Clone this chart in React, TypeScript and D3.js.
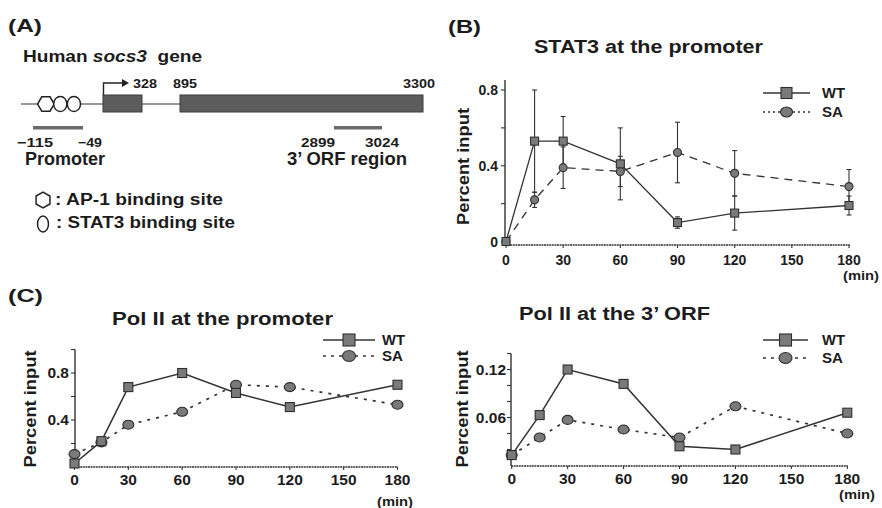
import React from "react";
import * as d3 from "d3";

// ---------------- data ----------------
const timePoints = [0, 15, 30, 60, 90, 120, 180];
const timeTicks = [0, 30, 60, 90, 120, 150, 180];

// (B) STAT3 at the promoter (percent input, mean ± error)
const stat3WT = [0.0, 0.53, 0.53, 0.41, 0.1, 0.15, 0.19];
const stat3WTErr = [0.01, 0.27, 0.13, 0.19, 0.03, 0.09, 0.05];
const stat3SA = [0.0, 0.22, 0.39, 0.37, 0.47, 0.36, 0.29];
const stat3SAErr = [0.01, 0.04, 0.11, 0.08, 0.16, 0.12, 0.09];
const stat3YTicks = [0, 0.2, 0.4, 0.6, 0.8];
const stat3YLabels = [0, 0.4, 0.8];

// (C) Pol II at the promoter
const polPromWT = [0.03, 0.22, 0.68, 0.8, 0.63, 0.51, 0.7];
const polPromSA = [0.11, 0.21, 0.36, 0.47, 0.7, 0.68, 0.53];
const polPromYTicks = [0.2, 0.4, 0.6, 0.8, 1.0];
const polPromYLabels = [0.4, 0.8];

// (C) Pol II at the 3' ORF
const polOrfWT = [0.013, 0.063, 0.12, 0.102, 0.024, 0.02, 0.066];
const polOrfSA = [0.013, 0.035, 0.057, 0.045, 0.035, 0.074, 0.04];
const polOrfYTicks = [0.02, 0.04, 0.06, 0.08, 0.1, 0.12, 0.14];
const polOrfYLabels = [0.06, 0.12];

// (A) gene schematic (bp positions)
const geneExons = [
  [0, 328],
  [895, 3300],
];
const promoterRegion = [-115, -49];
const orfRegion = [2899, 3024];
const ap1Sites = [-98];
const stat3Sites = [-79, -61];

// ---------------- helpers ----------------
const F = "'Liberation Sans', Arial, Helvetica, sans-serif";
const INK = "#1c1c1c";
const MARK_FILL = "#7a7a7a";
const MARK_STROKE = "#2e2e2e";

function T(props: any) {
  const { x, y, fs = 14, w, anchor = "start", rot, italic, children } = props;
  const extra: any = {};
  if (w) {
    extra.textLength = w;
    extra.lengthAdjust = "spacingAndGlyphs";
  }
  return (
    <text
      x={x}
      y={y}
      fontSize={fs}
      fontWeight="bold"
      fontStyle={italic ? "italic" : undefined}
      fontFamily={F}
      textAnchor={anchor}
      fill={INK}
      transform={rot ? `rotate(-90 ${x} ${y})` : undefined}
      style={{ whiteSpace: "pre" }}
      {...extra}
    >
      {children}
    </text>
  );
}

function Square({ x, y, s }: any) {
  return (
    <rect x={x - s / 2} y={y - s / 2} width={s} height={s} fill={MARK_FILL} stroke={MARK_STROKE} strokeWidth={1.1} />
  );
}
function Dot({ x, y, rx, ry }: any) {
  return <ellipse cx={x} cy={y} rx={rx} ry={ry} fill={MARK_FILL} stroke={MARK_STROKE} strokeWidth={1.1} />;
}

function hexPath(cx: number, cy: number, r: number, flat: boolean) {
  const pts = d3.range(6).map((i) => {
    const a = (Math.PI / 3) * i + (flat ? 0 : Math.PI / 6);
    return [cx + r * Math.cos(a), cy + r * Math.sin(a)];
  });
  return "M" + pts.map((p) => p.join(",")).join("L") + "Z";
}

function Legend({ x1, x2, yWT, ySA, tx, sq, rx, ry, saDash }: any) {
  const mid = (x1 + x2) / 2;
  return (
    <g>
      <line x1={x1} x2={x2} y1={yWT} y2={yWT} stroke="#333" strokeWidth={1.3} />
      <Square x={mid} y={yWT} s={sq} />
      <T x={tx} y={yWT + 5} fs={14} w={23}>WT</T>
      <line x1={x1} x2={x2} y1={ySA} y2={ySA} stroke="#333" strokeWidth={1.6} strokeDasharray={saDash} />
      <Dot x={mid} y={ySA} rx={rx} ry={ry} />
      <T x={tx} y={ySA + 5} fs={14} w={21}>SA</T>
    </g>
  );
}

function Axes({ x, y, axisX, axisY, yTop, xEnd, yTicks, yLabels, fmt, labelX, xLabelY, fs }: any) {
  return (
    <g>
      <line x1={axisX} x2={axisX} y1={yTop} y2={axisY} stroke="#333" strokeWidth={1.4} />
      <line x1={axisX} x2={xEnd} y1={axisY} y2={axisY} stroke="#333" strokeWidth={1.4} strokeDasharray="2,0.6" />
      {yTicks.map((t: number) => (
        <line key={"yt" + t} x1={axisX - 4} x2={axisX} y1={y(t)} y2={y(t)} stroke="#333" strokeWidth={1.1} />
      ))}
      {yLabels.map((t: number) => (
        <T key={"yl" + t} x={labelX} y={y(t) + 5} fs={fs} anchor="end">
          {fmt(t)}
        </T>
      ))}
      {timeTicks.map((t) => (
        <line key={"xt" + t} x1={x(t)} x2={x(t)} y1={axisY} y2={axisY + 3} stroke="#333" strokeWidth={1.1} />
      ))}
      {timeTicks.map((t) => (
        <T key={"xl" + t} x={x(t)} y={xLabelY} fs={fs} anchor="middle">
          {String(t)}
        </T>
      ))}
    </g>
  );
}

// ---------------- panels ----------------
function PanelA() {
  const gx = d3
    .scaleLinear()
    .domain([-420, -115, -49, 0, 328, 895, 2899, 3024, 3300])
    .range([21, 33, 83, 103, 142, 180, 334, 382, 423]);
  const gy = 104;
  return (
    <g>
      <T x={8} y={32} fs={18} w={34}>(A)</T>
      <text x={23} y={62} fontSize={16} fontWeight="bold" fontFamily={F} fill={INK} textLength={179} lengthAdjust="spacingAndGlyphs" style={{ whiteSpace: "pre" }}>
        Human <tspan fontStyle="italic">socs3</tspan>{"  gene"}
      </text>
      <line x1={gx(-420)} x2={gx(3300)} y1={gy} y2={gy} stroke="#333" strokeWidth={1.2} />
      {geneExons.map(([a, b]) => (
        <rect key={a} x={gx(a)} y={gy - 9} width={gx(b) - gx(a)} height={17} fill="#5c5c5c" stroke="#3a3a3a" strokeWidth={1} />
      ))}
      {ap1Sites.map((s) => (
        <path key={s} d={hexPath(gx(s), gy, 8.3, true)} fill="#fff" stroke="#222" strokeWidth={1.5} />
      ))}
      {stat3Sites.map((s) => (
        <ellipse key={s} cx={gx(s)} cy={gy} rx={6.6} ry={7.6} fill="#fff" stroke="#222" strokeWidth={1.5} />
      ))}
      <path d={`M${gx(0) + 0.5},${gy - 9} V${gy - 21} H${gx(0) + 22}`} fill="none" stroke="#222" strokeWidth={1.4} />
      <path d={`M${gx(0) + 19},${gy - 25} L${gx(0) + 26},${gy - 21} L${gx(0) + 19},${gy - 17} Z`} fill="#222" />
      <T x={gx(328) - 9} y={88} fs={13} w={24}>328</T>
      <T x={gx(895) - 7} y={88} fs={13} w={24}>895</T>
      <T x={gx(3300) + 12} y={88} fs={13} w={32} anchor="end">3300</T>
      <rect x={gx(promoterRegion[0])} y={126} width={gx(promoterRegion[1]) - gx(promoterRegion[0])} height={3.5} fill="#6a6a6a" />
      <rect x={gx(orfRegion[0])} y={126} width={gx(orfRegion[1]) - gx(orfRegion[0])} height={3.5} fill="#6a6a6a" />
      <T x={gx(promoterRegion[0]) + 2} y={147} fs={13} w={36} anchor="middle">−115</T>
      <T x={gx(promoterRegion[1]) + 7} y={147} fs={13} w={24} anchor="middle">−49</T>
      <T x={gx(orfRegion[0]) + 1} y={147} fs={13} w={34} anchor="end">2899</T>
      <T x={gx(orfRegion[1])} y={147} fs={13} w={34} anchor="middle">3024</T>
      <T x={25} y={165} fs={18} w={80}>Promoter</T>
      <T x={287} y={165} fs={18} w={120}>3’ ORF region</T>
      <path d={hexPath(43, 200, 8, false)} fill="#fff" stroke="#222" strokeWidth={1.5} />
      <T x={55} y={205} fs={16} w={168}>: AP-1 binding site</T>
      <ellipse cx={43} cy={224} rx={5.5} ry={8} fill="#fff" stroke="#222" strokeWidth={1.5} />
      <T x={56} y={228} fs={16} w={179}>: STAT3 binding site</T>
    </g>
  );
}

function PanelB() {
  const x = d3.scaleLinear().domain([0, 180]).range([506, 849]);
  const y = d3.scaleLinear().domain([0, 0.8]).range([241.5, 90]);
  const line = d3
    .line<number>()
    .x((_, i) => x(timePoints[i]))
    .y((d) => y(d));
  const err = (vals: number[], errs: number[], key: string) =>
    vals.map((v, i) => {
      const cx = x(timePoints[i]);
      const y1 = y(v + errs[i]);
      const y2 = y(v - errs[i]);
      return (
        <g key={key + i} stroke="#333" strokeWidth={1.1}>
          <line x1={cx} x2={cx} y1={y1} y2={y2} />
          <line x1={cx - 2.5} x2={cx + 2.5} y1={y1} y2={y1} />
          <line x1={cx - 2.5} x2={cx + 2.5} y1={y2} y2={y2} />
        </g>
      );
    });
  return (
    <g>
      <T x={448} y={33} fs={18} w={33}>(B)</T>
      <T x={534} y={53} fs={18} w={229}>STAT3 at the promoter</T>
      <T x={469} y={166.5} fs={16} w={117} anchor="middle" rot>Percent input</T>
      <Axes
        x={x}
        y={y}
        axisX={505}
        axisY={245}
        yTop={y(0.853)}
        xEnd={850}
        yTicks={stat3YTicks}
        yLabels={stat3YLabels}
        fmt={(v: number) => (v === 0 ? "0" : v.toFixed(1))}
        labelX={498}
        xLabelY={265}
        fs={14}
      />
      <T x={843} y={280} fs={12} w={36}>(min)</T>
      {err(stat3SA, stat3SAErr, "sa")}
      {err(stat3WT, stat3WTErr, "wt")}
      <path d={line(stat3SA) || ""} fill="none" stroke="#333" strokeWidth={1.3} strokeDasharray="8,6" />
      <path d={line(stat3WT) || ""} fill="none" stroke="#333" strokeWidth={1.3} />
      {stat3SA.map((v, i) => (
        <Dot key={"s" + i} x={x(timePoints[i])} y={y(v)} rx={4} ry={4} />
      ))}
      {stat3WT.map((v, i) => (
        <Square key={"w" + i} x={x(timePoints[i])} y={y(v)} s={8} />
      ))}
      <Legend x1={763} x2={810} yWT={93} ySA={112} tx={822} sq={11} rx={6} ry={5} saDash="2,3" />
    </g>
  );
}

function PolPanel({ wt, sa, xr, yDomain, yRange, yTopVal, axisX, axisY, xEnd, yTicks, yLabels, fmt, labelX, xLabelY, title, titleX, titleY, titleW, ylabX, legend, minX, minY }: any) {
  const x = d3.scaleLinear().domain([0, 180]).range(xr);
  const y = d3.scaleLinear().domain(yDomain).range(yRange);
  const line = d3
    .line<number>()
    .x((_, i) => x(timePoints[i]))
    .y((d) => y(d));
  return (
    <g>
      <T x={titleX} y={titleY} fs={18} w={titleW}>{title}</T>
      <T x={ylabX} y={409} fs={16} w={117} anchor="middle" rot>Percent input</T>
      <Axes
        x={x}
        y={y}
        axisX={axisX}
        axisY={axisY}
        yTop={y(yTopVal)}
        xEnd={xEnd}
        yTicks={yTicks}
        yLabels={yLabels}
        fmt={fmt}
        labelX={labelX}
        xLabelY={xLabelY}
        fs={15.5}
      />
      <T x={minX} y={minY} fs={13} w={36}>(min)</T>
      <path d={line(sa) || ""} fill="none" stroke="#333" strokeWidth={1.7} strokeDasharray="3,6" />
      <path d={line(wt) || ""} fill="none" stroke="#333" strokeWidth={1.5} />
      {sa.map((v: number, i: number) => (
        <Dot key={"s" + i} x={x(timePoints[i])} y={y(v)} rx={5.5} ry={4.5} />
      ))}
      {wt.map((v: number, i: number) => (
        <Square key={"w" + i} x={x(timePoints[i])} y={y(v)} s={9} />
      ))}
      <Legend {...legend} sq={12} rx={6.5} ry={5.5} saDash="3,5" />
    </g>
  );
}

export default function App() {
  return (
    <svg
      width={882}
      height={508}
      viewBox="0 0 882 508"
      style={{ position: "absolute", left: 0, top: 0, background: "#fff" }}
    >
      <rect x={0} y={0} width={882} height={508} fill="#fff" />
      <PanelA />
      <PanelB />
      <T x={8} y={302} fs={18} w={35}>(C)</T>
      <PolPanel
        wt={polPromWT}
        sa={polPromSA}
        xr={[74.5, 397.5]}
        yDomain={[0, 1]}
        yRange={[467, 349.5]}
        yTopVal={1}
        axisX={75}
        axisY={467}
        xEnd={398}
        yTicks={polPromYTicks}
        yLabels={polPromYLabels}
        fmt={(v: number) => v.toFixed(1)}
        labelX={69}
        xLabelY={485}
        title="Pol II at the promoter"
        titleX={112}
        titleY={325}
        titleW={221}
        ylabX={36}
        legend={{ x1: 323, x2: 375, yWT: 340, ySA: 356, tx: 382 }}
        minX={377}
        minY={506}
      />
      <PolPanel
        wt={polOrfWT}
        sa={polOrfSA}
        xr={[511.7, 847.3]}
        yDomain={[0, 0.12]}
        yRange={[465.5, 369.5]}
        yTopVal={0.14}
        axisX={511}
        axisY={466}
        xEnd={848}
        yTicks={polOrfYTicks}
        yLabels={polOrfYLabels}
        fmt={(v: number) => v.toFixed(2)}
        labelX={506}
        xLabelY={484}
        title="Pol II at the 3’ ORF"
        titleX={519}
        titleY={320}
        titleW={191}
        ylabX={468}
        legend={{ x1: 763, x2: 808, yWT: 340, ySA: 358, tx: 822 }}
        minX={839}
        minY={499}
      />
    </svg>
  );
}
